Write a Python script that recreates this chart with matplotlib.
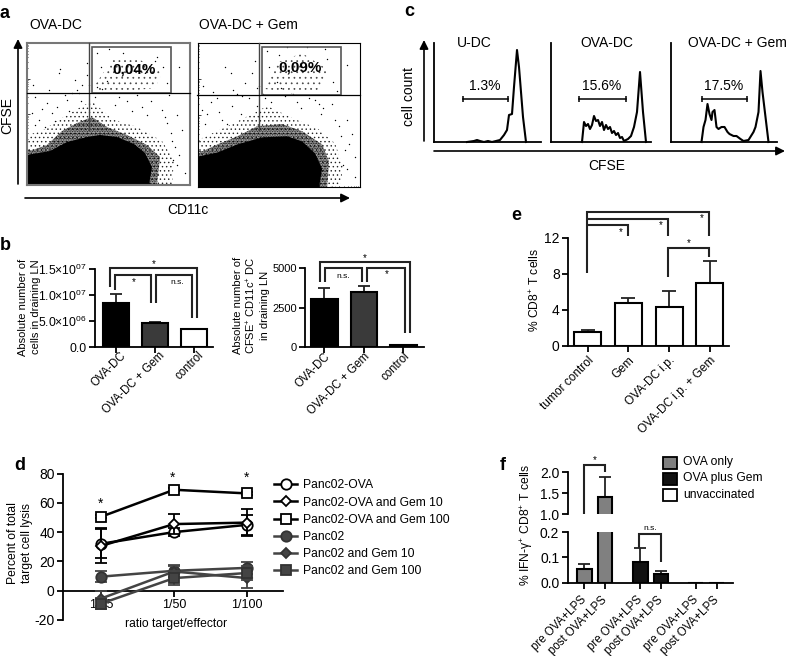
import matplotlib
matplotlib.use('Agg')
import matplotlib.pyplot as plt
from matplotlib.patches import Rectangle, Polygon
from matplotlib.lines import Line2D
from matplotlib.transforms import ScaledTranslation
import numpy as np

plt.rcParams['font.family'] = ['Liberation Sans', 'DejaVu Sans']
plt.rcParams['mathtext.default'] = 'regular'
plt.rcParams['hatch.linewidth'] = 0.5
plt.rcParams['axes.linewidth'] = 1.3

W, H = 789, 656
FS = 8.7
BIG = 10

# panel a, flow plots (axis units are a plain 163 x 142 grid)
A1_core_x = [0, 23, 40, 60, 73, 90, 107, 118, 125, 122]
A1_core_h = [30, 34, 43, 48, 50, 48, 41, 32, 18, 0]
A1_mid_x = [0, 20, 35, 50, 65, 80, 100, 120, 133, 130]
A1_mid_h = [33, 40, 54, 62, 68, 58, 50, 40, 28, 0]
A1_halo_x = [0, 15, 30, 50, 65, 85, 110, 135, 147, 145]
A1_halo_h = [50, 54, 64, 76, 84, 66, 58, 44, 25, 0]
A1_gate = [[68, 100], [85, 125], [110, 127], [135, 112], [128, 97], [100, 94], [72, 92]]
A1_dots_x = [32, 33, 48, 55, 60, 40, 30, 12, 25, 20, 45, 150, 155, 148, 140, 146, 158, 135, 100, 115, 92, 75, 5, 8, 70, 60, 50, 142, 152, 130,
             8, 15, 22, 38, 52, 70, 88, 105, 120, 138, 145, 152, 74, 82, 96, 128, 140, 136, 62, 42, 18, 6, 28, 110, 124, 150, 80, 68, 54, 144]
A1_dots_y = [112, 116, 105, 100, 110, 85, 78, 65, 72, 82, 92, 70, 55, 38, 62, 25, 12, 75, 84, 78, 88, 96, 72, 60, 132, 122, 95, 90, 118, 128,
             88, 76, 95, 90, 92, 98, 80, 74, 70, 68, 44, 30, 118, 136, 132, 124, 102, 118, 100, 74, 58, 100, 64, 90, 84, 20, 104, 88, 84, 52]
A2_core_x = [0, 20, 40, 65, 90, 105, 118, 125, 122]
A2_core_h = [30, 34, 42, 49, 50, 45, 33, 18, 0]
A2_mid_x = [0, 20, 40, 60, 85, 105, 125, 132, 130]
A2_mid_h = [33, 42, 50, 60, 62, 55, 42, 25, 0]
A2_halo_x = [0, 30, 55, 70, 95, 120, 138, 146, 143]
A2_halo_h = [46, 60, 72, 80, 68, 58, 43, 20, 0]
A2_gate = [[66, 97], [78, 122], [105, 132], [132, 115], [122, 96], [95, 92]]
A2_dots_x = [28, 34, 48, 55, 60, 20, 35, 10, 25, 45, 150, 155, 148, 142, 146, 158, 135, 118, 100, 88, 74, 5, 8, 70, 58, 140, 150, 128, 90, 110,
             14, 22, 40, 52, 66, 84, 104, 124, 138, 152, 72, 82, 130, 136, 62, 44, 6, 30, 112, 122, 150, 80, 68, 144, 96, 60, 16, 36, 126, 158]
A2_dots_y = [118, 112, 103, 112, 98, 88, 80, 72, 66, 90, 66, 52, 36, 60, 22, 10, 82, 86, 84, 90, 84, 76, 62, 134, 124, 95, 120, 136, 138, 138,
             84, 74, 92, 88, 92, 98, 78, 72, 66, 42, 118, 130, 126, 104, 100, 72, 100, 62, 88, 82, 18, 104, 88, 50, 92, 80, 94, 96, 78, 30]

# panel b
B_labels = ['OVA-DC', 'OVA-DC + Gem', 'control']
B1_values = [8.5e6, 4.7e6, 3.6e6]
B1_tops = [1.02e7, 4.9e6, 3.6e6]
B1_ticks = [0, 5e6, 1e7, 1.5e7]
B1_ticklabels = ['0.0', '5.0×10$^{06}$', '1.0×10$^{07}$', '1.5×10$^{07}$']
B2_values = [3050, 3450, 100]
B2_tops = [3750, 3870, 100]
B2_ticks = [0, 2500, 5000]
B_colors = ['black', '#3a3a3a', 'white']
B2_colors = ['black', '#3a3a3a', 'black']

# panel c, histograms
C_titles = ['U-DC', 'OVA-DC', 'OVA-DC + Gem']
C_pct = ['1.3%', '15.6%', '17.5%']
C1_x = [33, 40, 43, 46, 50, 54, 58, 62, 66, 70, 73, 75, 78, 80, 83, 85, 87, 89, 92]
C1_h = [0, 1, 2, 1, 0, 1, 0, 1, 2, 7, 12, 27, 28, 55, 92, 75, 50, 25, 0]
C2_x = [31, 33, 35, 37, 39, 41, 43, 45, 47, 49, 51, 53, 55, 57, 59, 61, 63, 65, 67, 69, 71, 73, 77, 80, 83, 86, 89, 92, 95]
C2_h = [0, 20, 16, 18, 13, 17, 26, 21, 22, 16, 20, 12, 17, 13, 15, 9, 11, 7, 9, 4, 5, 1, 3, 6, 15, 30, 70, 30, 0]
C3_x = [31, 33, 35, 37, 39, 41, 42, 44, 46, 48, 51, 54, 57, 59, 61, 63, 66, 70, 73, 78, 83, 85, 88, 90, 92, 95, 98]
C3_h = [0, 15, 22, 38, 28, 22, 30, 32, 15, 13, 15, 15, 10, 8, 7, 6, 6, 3, 1, 2, 10, 15, 30, 71, 50, 25, 0]

# panel d
D_ticks = ['1/25', '1/50', '1/100']
D_names = ['Panc02-OVA', 'Panc02-OVA and Gem 10', 'Panc02-OVA and Gem 100', 'Panc02', 'Panc02 and Gem 10', 'Panc02 and Gem 100']
D_values = [[32, 40, 45], [30.5, 45.5, 46.5], [50.5, 69, 66.5], [9.5, 13.5, 15.5], [-5.5, 13, 8.5], [-9, 8.5, 12]]
D_errors = [[10, 3, 7], [12, 7, 9], [1, 1, 1], [4, 4, 4], [5, 4, 7], [4, 5, 5]]
D_markers = ['o', 'D', 's', 'o', 'D', 's']
D_sizes = [7.5, 5, 7.5, 7.5, 5, 7.5]
D_edge = ['black', 'black', 'black', '#333333', '#333333', '#333333']
D_face = ['white', 'white', 'white', '#444444', '#444444', '#444444']
D_line = ['black', 'black', 'black', '#444444', '#444444', '#444444']

# panel e
E_labels = ['tumor control', 'Gem', 'OVA-DC i.p.', 'OVA-DC i.p. + Gem']
E_values = [1.5, 4.7, 4.35, 6.95]
E_tops = [1.8, 5.3, 6.05, 9.45]

# panel f
F_labels = ['pre OVA+LPS', 'post OVA+LPS'] * 3
F_pos = [0, 1, 2.67, 3.67, 5.33, 6.33]
F_values = [0.055, 1.4, 0.083, 0.035, 0, 0]
F_tops = [0.073, 1.87, 0.137, 0.048, 0, 0]
F_colors = ['#808080', '#808080', '#111111', '#111111', 'white', 'white']
F_legend = ['OVA only', 'OVA plus Gem', 'unvaccinated']


def px_axes(l, t, r, b):
    return fig.add_axes([l / W, 1 - b / H, (r - l) / W, (b - t) / H])


def bars(ax, x, vals, tops, cols, width, cap):
    vals = np.array(vals)
    ax.bar(x, vals, width, color=cols, edgecolor='black', linewidth=1.5, zorder=3)
    up = np.array(tops) - vals
    keep = up > 0
    ax.errorbar(np.array(x)[keep], vals[keep], yerr=[np.zeros(keep.sum()), up[keep]], fmt='none',
                ecolor='#222222', elinewidth=1.3, capsize=cap, capthick=1.3, zorder=2)
    for s in ['top', 'right']:
        ax.spines[s].set_visible(False)
    ax.tick_params(length=4, width=1.3, labelsize=FS, pad=2)


def rotated(ax, x, labels, size=FS, dx=0, dy=0):
    ax.set_xticks(x)
    ax.set_xticklabels(labels, rotation=45, ha='right', rotation_mode='anchor', fontsize=size)
    for lab in ax.get_xticklabels():
        lab.set_transform(lab.get_transform() + ScaledTranslation(dx / 100, dy / 100, fig.dpi_scale_trans))


def bracket(xs, ys, c='#222222', lw=1.5):
    ov.plot(xs, ys, color=c, lw=lw, solid_joinstyle='miter', solid_capstyle='butt')


def flow(rect, core_x, core_h, mid_x, mid_h, halo_x, halo_h, gate, dots_x, dots_y, frame, flw):
    ax = px_axes(*rect)
    ax.set_xlim(0, 163)
    ax.set_ylim(0, 142)
    ax.add_patch(Polygon(list(zip(halo_x, halo_h)) + [(0, 0)], fill=False, hatch='....', lw=0, color='#222222'))
    ax.add_patch(Polygon(list(zip(mid_x, mid_h)) + [(0, 0)], fill=False, hatch='.............', lw=0, color='black'))
    ax.add_patch(Polygon(list(zip(mid_x, mid_h)) + [(0, 0)], fill=False, hatch='..........', lw=0, color='black'))
    ax.add_patch(Polygon(list(zip(core_x, core_h)) + [(0, 0)], color='black', lw=0))
    ax.add_patch(Polygon(gate, fill=False, hatch='...', lw=0, color='#444444'))
    ax.scatter(dots_x, dots_y, s=1.0, c='black', lw=0)
    dec = np.arange(0, 163, 40.75)
    ax.set_xticks(dec)
    ax.set_yticks(np.arange(0, 142, 35.5))
    minor = np.log10(np.arange(2, 10))
    ax.set_xticks(np.concatenate([d + minor * 40.75 for d in dec]), minor=True)
    ax.set_yticks(np.concatenate([d + minor * 35.5 for d in np.arange(0, 142, 35.5)]), minor=True)
    ax.tick_params(direction='in', length=2, width=0.5, labelbottom=False, labelleft=False, which='both')
    ax.tick_params(which='minor', length=1)
    for s in ax.spines.values():
        s.set_color(frame)
        s.set_linewidth(flw)
    return ax


fig = plt.figure(figsize=(W / 100, H / 100), dpi=100)

ov = fig.add_axes([0, 0, 1, 1], zorder=10)
ov.set_xlim(0, W)
ov.set_ylim(H, 0)
ov.axis('off')
ov.patch.set_alpha(0)

# a
flow((27, 43, 190, 185), A1_core_x, A1_core_h, A1_mid_x, A1_mid_h, A1_halo_x, A1_halo_h, A1_gate, A1_dots_x, A1_dots_y, '#777777', 1.5)
flow((197.5, 43, 360, 187), A2_core_x, A2_core_h, A2_mid_x, A2_mid_h, A2_halo_x, A2_halo_h, A2_gate, A2_dots_x, A2_dots_y, 'black', 0.8)
for vx, hy, gl, gr, in [(89, 93, 92, 171), (259, 94.5, 262, 341)]:
    off = 27 if vx == 89 else 197.5
    ov.plot([vx, vx], [43, 130], color='#444444', lw=1)
    ov.plot([off, off + 163], [hy, hy], color='black', lw=0.9)
    ov.add_patch(Rectangle((gl, 47), gr - gl, hy - 47, fill=False, ec='#555555', lw=1.2))
ov.text(134, 70, '0,04%', ha='center', va='center', fontsize=11, fontweight='bold')
ov.text(300.5, 67, '0,09%', ha='center', va='center', fontsize=11, fontweight='bold')
ov.text(29, 25, 'OVA-DC', va='center', fontsize=BIG)
ov.text(199, 25, 'OVA-DC + Gem', va='center', fontsize=BIG)
ov.text(7, 115, 'CFSE', rotation=90, ha='center', va='center', fontsize=BIG)
ov.text(188, 210, 'CD11c', ha='center', va='center', fontsize=BIG)
arrow = dict(arrowstyle='-|>', color='black', lw=1.2, mutation_scale=13, shrinkA=0, shrinkB=0)
ov.annotate('', xy=(18, 39), xytext=(18, 184), arrowprops=arrow)
ov.annotate('', xy=(350, 198), xytext=(25, 198), arrowprops=arrow)

# b
ax = px_axes(95, 269.3, 213, 347.3)
bars(ax, range(3), B1_values, B1_tops, B_colors, 0.67, 4.5)
ax.set_xlim(-0.54, 2.5)
ax.set_ylim(0, 1.5e7)
ax.set_yticks(B1_ticks)
ax.set_yticklabels(B1_ticklabels)
rotated(ax, range(3), B_labels, 8.3, 4, 6)
ov.text(29.5, 307, 'Absolute number of\ncells in draining LN', rotation=90, ha='center', va='center', fontsize=8, linespacing=1.35)

ax = px_axes(305, 268, 424, 347)
bars(ax, range(3), B2_values, B2_tops, B2_colors, 0.67, 4.5)
ax.set_xlim(-0.49, 2.52)
ax.set_ylim(0, 5000)
ax.set_yticks(B2_ticks)
ax.tick_params(axis='y', labelsize=8)
rotated(ax, range(3), B_labels, 8.3, 0, 5)
ov.text(251.5, 305, 'Absolute number of\nCFSE$^{+}$ CD11c$^{+}$ DC\nin draining LN', rotation=90, ha='center', va='center', fontsize=8, linespacing=1.25)

bracket([110, 110, 197, 197], [287, 268, 268, 318])
bracket([115, 115, 151, 151], [290, 275, 275, 303])
bracket([156, 156, 192, 192], [303, 275, 275, 318])
bracket([320, 320, 410, 410], [282, 262, 262, 333])
bracket([325, 325, 362, 362], [282, 268, 268, 282])
bracket([367, 367, 405, 405], [282, 268, 268, 333])
for x, y, s in [(154, 264, '*'), (134, 282, '*'), (365, 258, '*'), (387, 274, '*')]:
    ov.text(x, y, s, ha='center', va='center', fontsize=7)
for x, y in [(177, 282), (343, 277)]:
    ov.text(x, y, 'n.s.', ha='center', va='center', fontsize=6)

# c
for left, right, xs, hs in [(434, 541, C1_x, C1_h), (551, 651, C2_x, C2_h), (670.5, 777, C3_x, C3_h)]:
    ax = px_axes(left, 43, right, 142)
    ax.plot(xs, hs, color='black', lw=1.5, clip_on=False)
    ax.set_xlim(0, right - left)
    ax.set_ylim(0, 99)
    ax.set_xticks([])
    ax.set_yticks([])
    for s in ['top', 'right']:
        ax.spines[s].set_visible(False)
for t, p, cx, g0, g1 in zip(C_titles, C_pct, [474, 607, 737], [463, 579, 702], [508, 626, 747]):
    ov.text(cx, 43, t, ha='center', va='center', fontsize=BIG)
    ov.text((g0 + g1) / 2 - 0.5, 86, p, ha='center', va='center', fontsize=BIG)
    ov.plot([g0, g1], [99, 99], color='black', lw=1.1, marker='|', ms=4, mew=1.1)
ov.text(409, 97, 'cell count', rotation=90, ha='center', va='center', fontsize=BIG)
ov.text(607, 166, 'CFSE', ha='center', va='center', fontsize=BIG)
ov.annotate('', xy=(424, 40), xytext=(424, 141), arrowprops=arrow)
ov.annotate('', xy=(785, 151), xytext=(434, 151), arrowprops=arrow)

# e
ax = px_axes(568, 237.7, 729, 345.7)
bars(ax, range(4), E_values, E_tops, ['white'] * 4, 0.66, 5)
ax.set_xlim(-0.48, 3.47)
ax.set_ylim(0, 12)
ax.set_yticks([0, 4, 8, 12])
ax.tick_params(axis='y', labelsize=BIG)
rotated(ax, range(4), E_labels, 8.6)
ov.text(535, 290, '% CD8$^{+}$ T cells', rotation=90, ha='center', va='center', fontsize=FS)
bracket([587, 587, 709, 709], [273, 212, 212, 236])
bracket([587, 668, 668], [219, 219, 236])
bracket([587, 628, 628], [225, 225, 236])
bracket([668, 668, 709, 709], [277, 248, 248, 257])
for x, y in [(621, 232), (661, 225), (702, 218), (689, 243)]:
    ov.text(x, y, '*', ha='center', va='center', fontsize=7)

# d
ax = px_axes(63, 473.7, 283, 619.7)
for i in range(6):
    ax.errorbar(range(3), D_values[i], yerr=D_errors[i], color=D_line[i], lw=1.8, capsize=4, capthick=1.3, elinewidth=1.3,
                marker=D_markers[i], ms=D_sizes[i], mfc=D_face[i], mec=D_edge[i], mew=1.3, label=D_names[i], zorder=3 + i)
ax.set_xlim(-0.52, 2.49)
ax.set_ylim(-20, 80)
ax.set_yticks([-20, 0, 20, 40, 60, 80])
ax.set_yticklabels(['-20', '0', '20', '40', '60', '80'])
ax.set_xticks(range(3))
ax.set_xticklabels(D_ticks)
ax.spines['bottom'].set_position(('data', 0))
for s in ['top', 'right']:
    ax.spines[s].set_visible(False)
ax.tick_params(length=4, width=1.3, labelsize=9, pad=2)
ax.tick_params(axis='y', labelsize=BIG)
ov.text(20, 543, 'Percent of total\ntarget cell lysis', rotation=90, ha='center', va='center', fontsize=FS, linespacing=1.25)
ov.text(176, 624, 'ratio target/effector', ha='center', va='center', fontsize=FS)
for x, y in [(101, 504), (173, 478), (247, 478)]:
    ov.text(x, y, '*', ha='center', va='center', fontsize=10)
handles = [Line2D([0], [0], color=D_line[i], lw=1.8, marker=D_markers[i], ms=D_sizes[i], mfc=D_face[i],
                  mec=D_edge[i], mew=1.3) for i in range(6)]
fig.legend(handles, D_names, loc='upper left', bbox_to_anchor=(272 / W, 1 - 477 / H), frameon=False, fontsize=FS,
           handlelength=1.9, handletextpad=0.45, labelspacing=0.43, borderaxespad=0, borderpad=0.2)

# f
lo = px_axes(567.7, 532, 733, 582.7)
bars(lo, F_pos, F_values, F_tops, F_colors, 0.71, 4)
lo.set_xlim(-0.78, 7.1)
lo.set_ylim(0, 0.2)
lo.set_yticks([0, 0.1, 0.2])
lo.tick_params(axis='y', labelsize=BIG)
rotated(lo, F_pos, F_labels, 8.3, -4, -3)
hi = px_axes(567.7, 472, 733, 514.3)
bars(hi, F_pos, F_values, F_tops, F_colors, 0.71, 4)
hi.set_xlim(-0.78, 7.1)
hi.set_ylim(1, 2)
hi.set_yticks([1, 1.5, 2])
hi.tick_params(axis='y', labelsize=BIG)
hi.set_xticks([])
hi.spines['bottom'].set_visible(False)
ov.text(527, 525, '% IFN-γ$^{+}$ CD8$^{+}$ T cells', rotation=90, ha='center', va='center', fontsize=FS)
bracket([583.7, 583.7, 605, 605], [514, 465, 465, 472])
bracket([639, 639, 661, 661], [548, 534, 534, 562])
ov.text(595, 460, '*', ha='center', va='center', fontsize=7)
ov.text(650, 528, 'n.s.', ha='center', va='center', fontsize=6)
for name, c, y in zip(F_legend, F_colors[::2], [457, 473, 489]):
    ov.add_patch(Rectangle((663, y), 14, 11.5, fc=c, ec='black', lw=1.3))
    ov.text(683, y + 5.5, name, va='center', fontsize=FS)

# panel letters
for s, x, y in [('a', 5, 13), ('b', 5, 245), ('c', 409, 12), ('d', 20, 465), ('e', 516, 216), ('f', 503, 465)]:
    ov.text(x, y, s, ha='center', va='center', fontsize=13, fontweight='bold')

fig.savefig('out.png', dpi=100)
